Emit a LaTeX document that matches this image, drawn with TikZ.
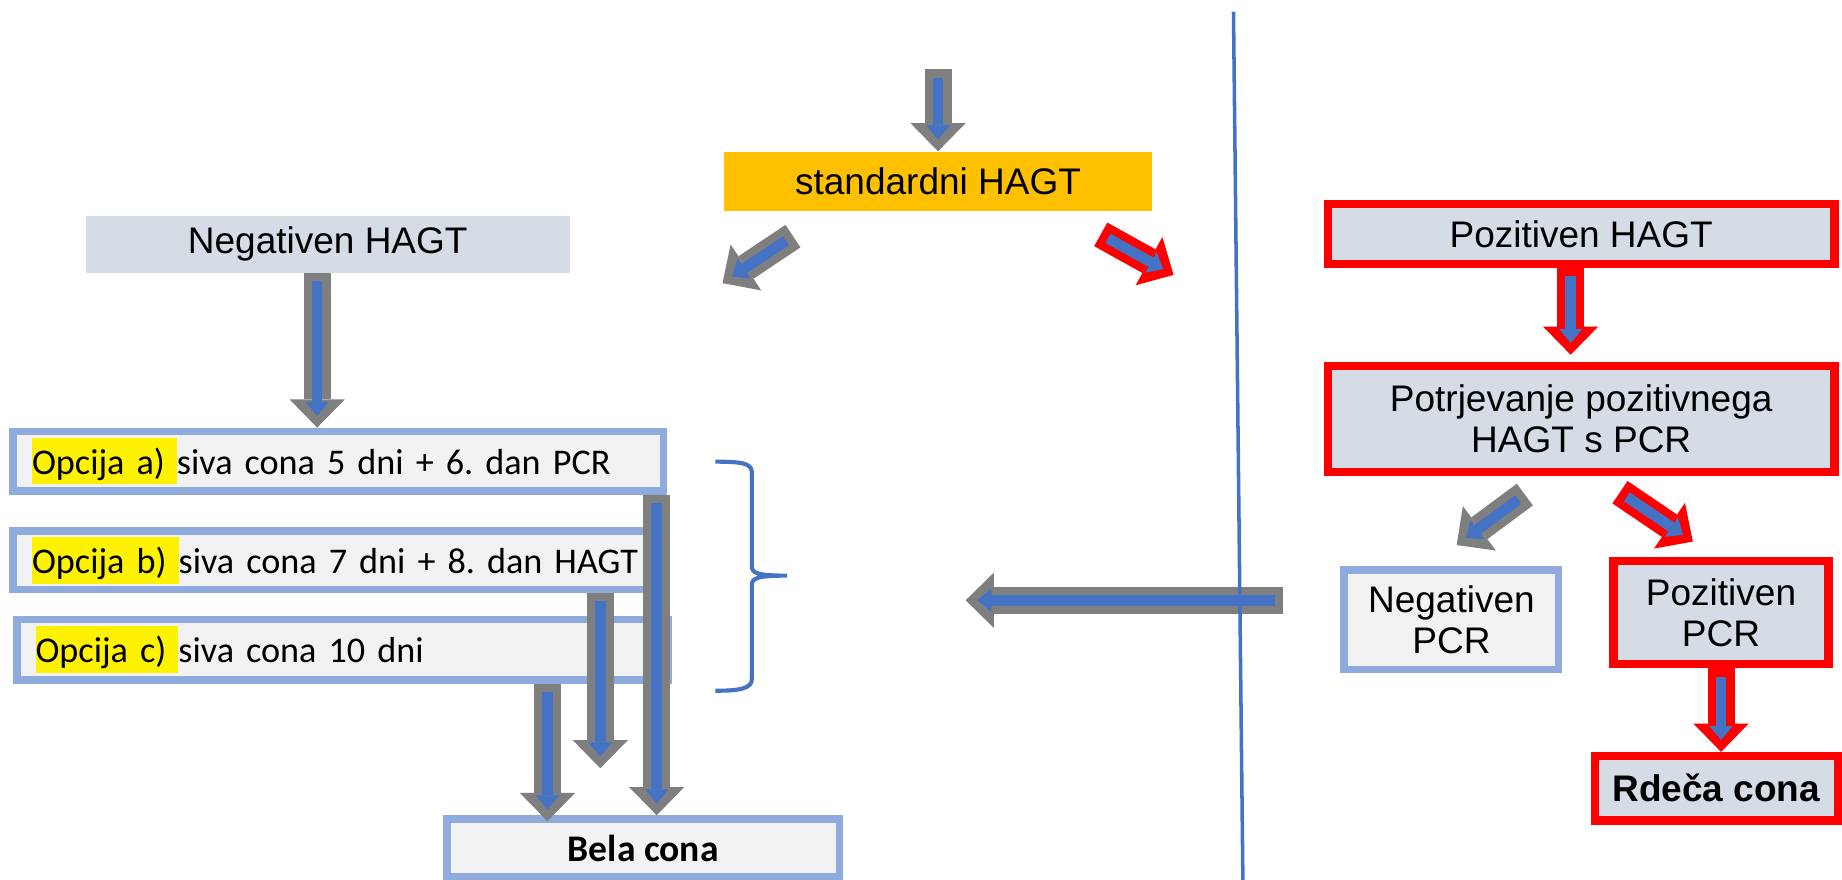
\documentclass[tikz,border=0pt]{standalone}
\usepackage{fontspec}
\setmainfont{Liberation Sans}
\newfontfamily\calfont[WordSpace={0.7,0,0}]{Carlito}
\newfontfamily\calbold{Carlito}
\usepackage{tikz}
\usetikzlibrary{arrows.meta}
\definecolor{arrowblue}{HTML}{4472C4}
\definecolor{bordergray}{HTML}{7F7F7F}
\definecolor{boxgray}{HTML}{D6DCE5}
\definecolor{optfill}{HTML}{F2F2F2}
\definecolor{optblue}{HTML}{8FAADC}
\definecolor{stdorange}{HTML}{FFC000}
\definecolor{hagtred}{HTML}{FF0000}
\newcommand\hl[1]{{\setlength{\fboxsep}{0pt}\colorbox{yellow}{\rule[-8.5pt]{0pt}{39.5pt}#1}}}
\newcommand\flow[3]{\draw[#1] #2 -- #3; \draw[bin] #2 -- #3;}
\tikzset{
  arial/.style={font=\fontsize{31.5pt}{35.5pt}\selectfont},
  hagt/.style={arial, inner sep=0pt},
  redbox/.style={arial, draw=hagtred, line width=7pt, fill=boxgray, align=center},
  bluebox/.style={draw=optblue, line width=6.5pt, fill=optfill},
  optbox/.style={bluebox, font=\fontsize{30.8pt}{38pt}\calfont\frenchspacing, align=left, inner xsep=16pt, inner ysep=0pt},
  gout/.style={draw=bordergray, line width=23pt, -{Triangle[length=24pt,width=47pt,line width=0pt]}},
  rout/.style={gout, draw=hagtred},
  bin/.style={draw=arrowblue, line width=9pt, shorten <=7pt, shorten >=10pt, -{Triangle[length=12pt,width=20pt,line width=0pt]}},
  sepline/.style={draw=arrowblue, line width=3pt}
}
\begin{document}
\begin{tikzpicture}[x=1pt,y=-1pt]
\useasboundingbox (0,0) rectangle (1568,749);
\fill[white] (0,0) rectangle (1568,749);

% middle
\node[hagt, fill=stdorange, minimum width=365pt, minimum height=51pt] (std) at (798.5,154.5) {standardni HAGT};

% left side
\node[hagt, fill=boxgray, minimum width=412pt, minimum height=48pt] (negH) at (279,208) {Negativen HAGT};
\node[optbox, text width=521.5pt, minimum height=50.5pt] (optA) at (288,392.5) {\mbox{\hl{Opcija a) }siva cona 5 dni + 6. dan PCR}};
\node[optbox, text width=513.5pt, minimum height=49.5pt] (optB) at (284,477) {\mbox{\hl{Opcija b) }siva cona 7 dni + 8. dan HAGT}};
\node[optbox, text width=522.5pt, minimum height=51.5pt] (optC) at (291.5,553) {\mbox{\hl{Opcija c) }siva cona 10 dni}};
\node[bluebox, font=\fontsize{32pt}{38pt}\calbold\bfseries, minimum width=334.5pt, minimum height=49.5pt] (bela) at (547.5,722) {Bela cona};

% right side
\node[redbox, minimum width=431pt, minimum height=51pt] (posH) at (1346,199) {Pozitiven HAGT};
\node[redbox, minimum width=431pt, minimum height=90pt] (potr) at (1346,356.5) {Potrjevanje pozitivnega\\HAGT s PCR};
\node[bluebox, arial, align=center, minimum width=182.5pt, minimum height=84.5pt] (negP) at (1235.5,527.5) {Negativen\\PCR};
\node[redbox, minimum width=183pt, minimum height=88pt] (posP) at (1465,521.5) {Pozitiven\\PCR};
\node[redbox, font=\fontsize{31.5pt}{35.5pt}\selectfont\bfseries, minimum width=207pt, minimum height=55pt] (rdeca) at (1461,671) {Rdeča cona};

% brace
\draw[arrowblue, line width=3.5pt] (609,393) .. controls (630,393) and (640,394) .. (640,402) -- (640,482)
  .. controls (640,488) and (645,490) .. (670,490)
  .. controls (645,490) and (640,492) .. (640,498) -- (640,578)
  .. controls (640,586) and (630,588) .. (609,588);

% arrows
\coordinate (stdIn) at (798.5,59);
\coordinate (stdL1) at (675,201);
\coordinate (stdL2) at (615,241);
\coordinate (stdR1) at (937,199.5);
\coordinate (stdR2) at (999,234);
\coordinate (aDrop) at ([xshift=11.5pt]bela.north);
\coordinate (bDrop) at (511,654);
\coordinate (cDrop) at ([xshift=-81.5pt,yshift=-5pt]bela.north);
\coordinate (pDrop) at ([xshift=-9pt,yshift=-74pt]posH.south);
\coordinate (potrL1) at (1298,421);
\coordinate (potrL2) at (1240,464);
\coordinate (potrR1) at (1379,419);
\coordinate (potrR2) at (1441,461);
\coordinate (backTail) at (1092,511);
\coordinate (backTip) at (822,511);

\flow{gout}{(stdIn)}{(std.north)}
\flow{gout}{(stdL1)}{(stdL2)}
\flow{rout}{(stdR1)}{(stdR2)}
\flow{gout}{([xshift=-9pt]negH.south)}{([xshift=-18pt]optA.north)}
\flow{gout}{(aDrop |- optA.south)}{(aDrop)}
\flow{gout}{(bDrop |- optB.south)}{(bDrop)}
\flow{gout}{(cDrop |- optC.south)}{(cDrop)}
\flow{rout}{(pDrop |- posH.south)}{(pDrop)}
\flow{gout}{(potrL1)}{(potrL2)}
\flow{rout}{(potrR1)}{(potrR2)}
\flow{rout}{(posP.south)}{(posP.south |- rdeca.north)}
\flow{gout}{(backTail)}{(backTip)}

% separator
\draw[sepline] (1050,10) -- (1058,749);
\end{tikzpicture}
\end{document}
